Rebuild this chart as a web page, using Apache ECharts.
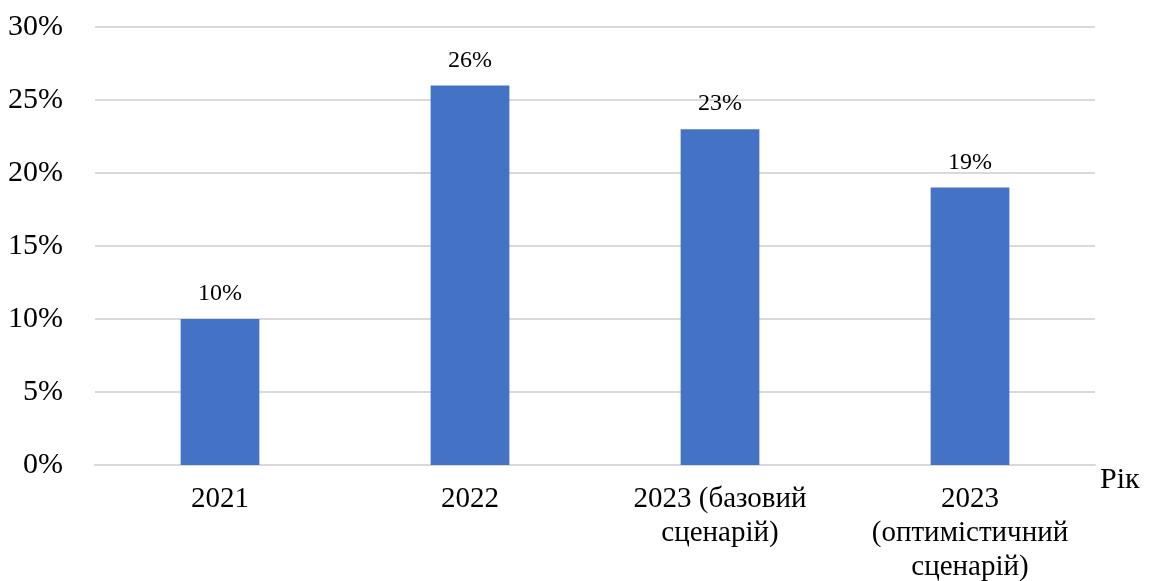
<!DOCTYPE html>
<html>
<head>
<meta charset="utf-8">
<script src="https://cdn.jsdelivr.net/npm/echarts@6/dist/echarts.min.js"></script>
<style>html,body{margin:0;padding:0;background:#fff;}#c{width:1156px;height:581px;}</style>
</head>
<body>
<div id="c"></div>
<script>
const categories = ["2021", "2022", "2023 (базовий сценарій)", "2023 (оптимістичний сценарій)"];
const tickLabels = ["2021", "2022", "2023 (базовий\nсценарій)", "2023\n(оптимістичний\nсценарій)"];
const values = [10, 26, 23, 19];
const axisName = "Рік";

const chart = echarts.init(document.getElementById('c'));
const font = "Liberation Serif";
chart.setOption({
  animation: false,
  textStyle: { fontFamily: font },
  grid: { left: 95, right: 61, top: 27, bottom: 116, containLabel: false, outerBoundsMode: 'none' },
  xAxis: {
    type: 'category',
    data: categories,
    name: axisName,
    nameLocation: 'end',
    nameGap: 5,
    nameTextStyle: { fontFamily: font, fontSize: 30, color: '#000', verticalAlign: 'top', lineHeight: 30 },
    axisLine: { show: true, lineStyle: { color: '#d9d9d9', width: 2 } },
    axisTick: { show: false },
    axisLabel: {
      fontFamily: font, fontSize: 29, color: '#000', lineHeight: 34, margin: 17,
      interval: 0,
      formatter: (v, i) => tickLabels[i]
    }
  },
  yAxis: {
    type: 'value',
    min: 0, max: 30, interval: 5,
    axisLine: { show: false },
    axisTick: { show: false },
    splitLine: { lineStyle: { color: '#d9d9d9', width: 2 } },
    axisLabel: { fontFamily: font, fontSize: 30, color: '#000', margin: 32, padding: [5, 0, 0, 0], formatter: '{value}%' }
  },
  series: [{
    type: 'bar',
    data: values,
    barWidth: '31.5%',
    itemStyle: { color: '#4472C4' },
    label: {
      show: true, position: 'top', distance: 13,
      fontFamily: font, fontSize: 24, color: '#000',
      formatter: '{c}%'
    }
  }]
});
</script>
</body>
</html>
